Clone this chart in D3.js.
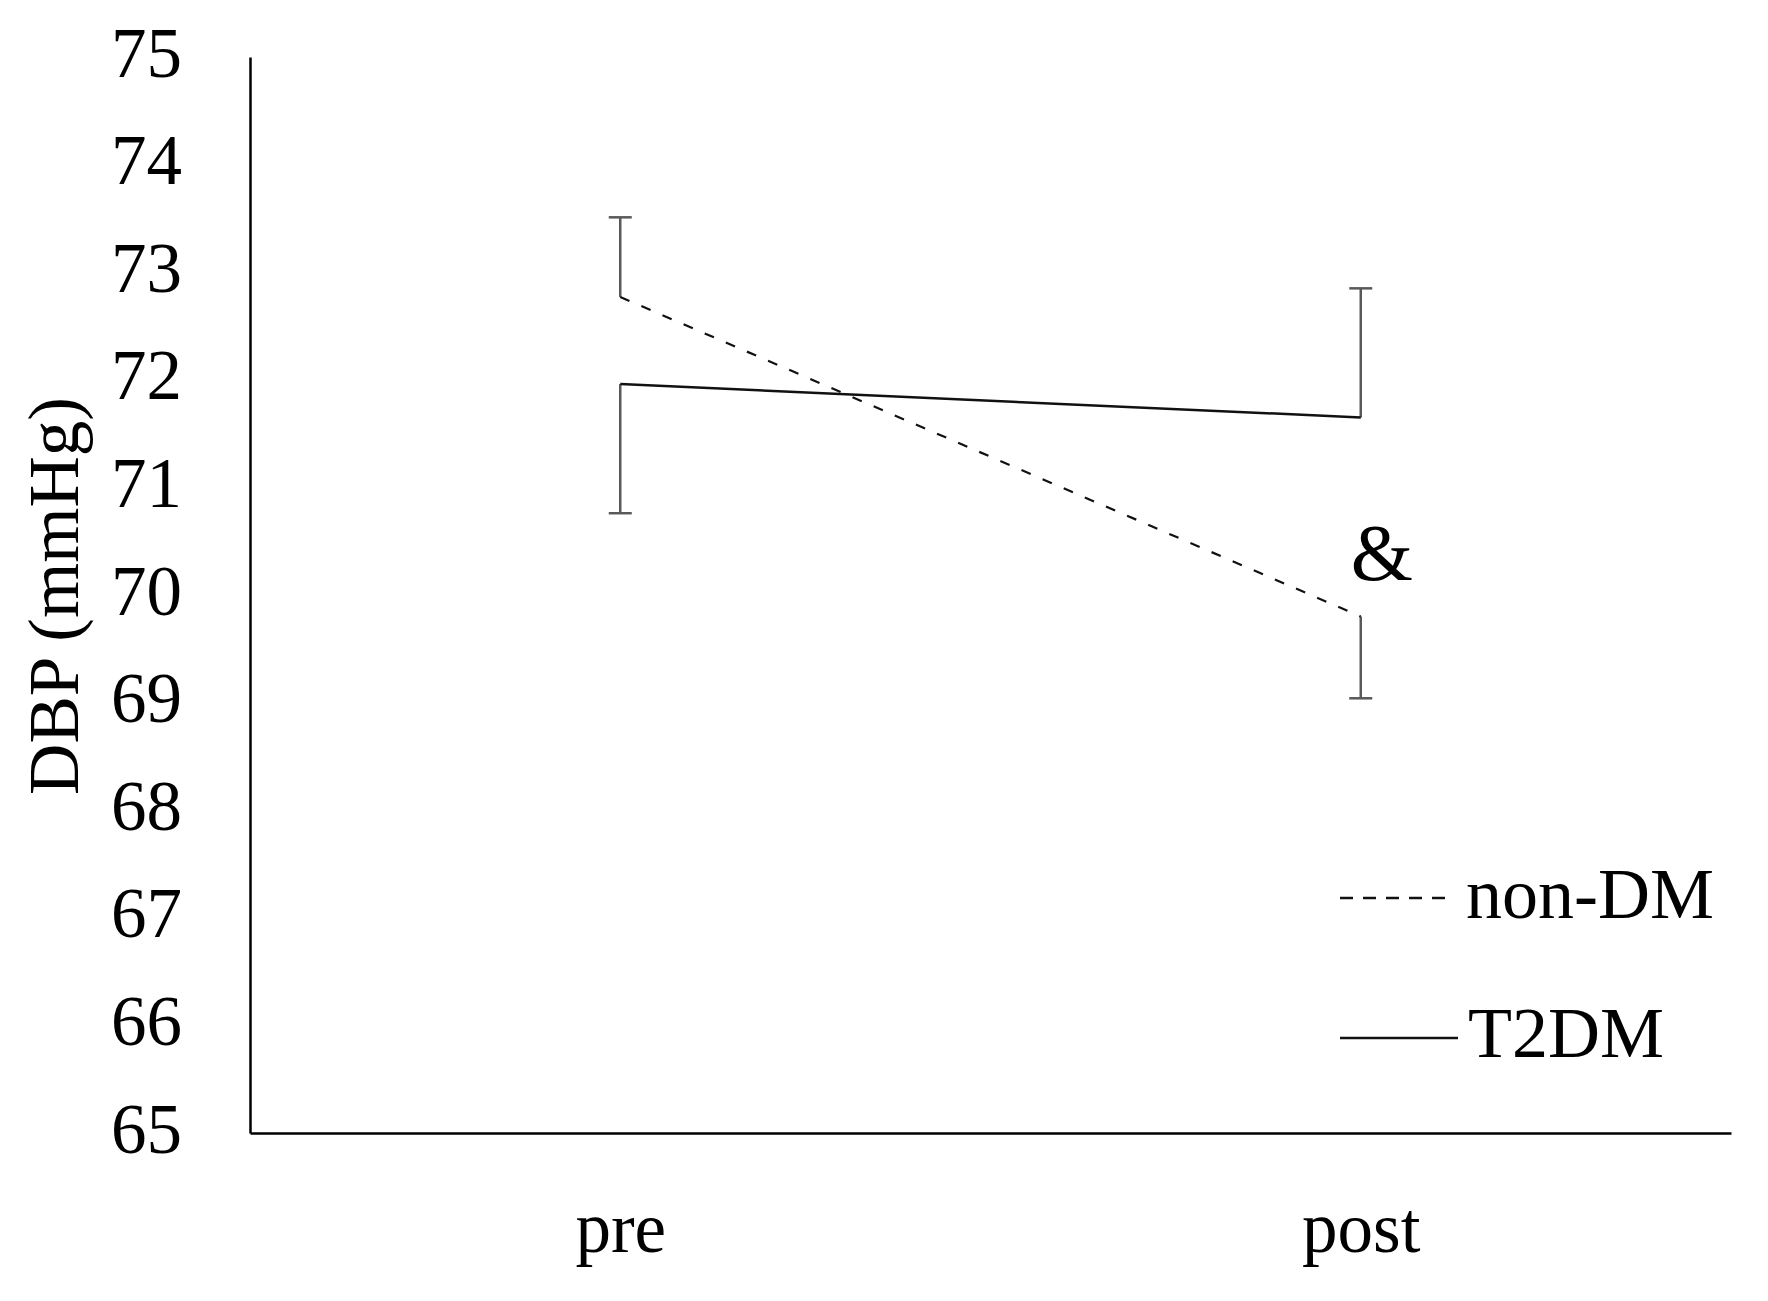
<!DOCTYPE html>
<html>
<head>
<meta charset="utf-8">
<script src="https://cdn.jsdelivr.net/npm/d3@7"></script>
<style>
  html, body { margin: 0; padding: 0; background: #fff; }
  svg { display: block; }
  text { font-family: "Liberation Serif", "DejaVu Serif", serif; fill: #000; }
</style>
</head>
<body>
<svg id="chart" width="1768" height="1301"></svg>
<script>
// ---- data ----
const categories = ["pre", "post"];
const yTicks = [65, 66, 67, 68, 69, 70, 71, 72, 73, 74, 75];
const nonDM = [72.77, 69.80];
const nonDMErr = [0.74, 0.76];   // non-DM: up at pre, down at post
const nonDMErrDir = [1, -1];
const t2dm = [71.96, 71.65];
const t2dmErr = [1.20, 1.20];    // T2DM: down at pre, up at post
const t2dmErrDir = [-1, 1];
const seriesNames = ["non-DM", "T2DM"];
const annotation = { category: "post", text: "&" };

// ---- layout ----
(function () {
const svg = d3.select("#chart");
const mLeft = 250, mRight = 1731, mTop = 57, mBottom = 1133;

const x = d3.scalePoint().domain(categories).range([mLeft, mRight]).padding(0.5);
const y = d3.scaleLinear().domain([65, 75]).range([mBottom, mTop]);

// y axis
const yAxis = svg.append("g").attr("transform", `translate(${mLeft},0)`)
  .call(d3.axisLeft(y).tickValues(yTicks).tickSize(0).tickPadding(68).tickFormat(d3.format("d")));
yAxis.select(".domain").attr("stroke", "#000").attr("stroke-width", 2.5);
yAxis.selectAll("text")
  .style("font-family", '"Liberation Serif", serif')
  .style("font-size", "71px")
  .attr("dy", "19px")
  .attr("fill", "#000");

// x axis
const xAxis = svg.append("g").attr("transform", `translate(0,${mBottom})`)
  .call(d3.axisBottom(x).tickSize(0).tickSizeOuter(0).tickPadding(0));
xAxis.select(".domain").attr("stroke", "#000").attr("stroke-width", 2.5);
xAxis.selectAll("text")
  .style("font-family", '"Liberation Serif", serif')
  .style("font-size", "71px")
  .attr("y", 0)
  .attr("dy", "119px")
  .attr("fill", "#000");

// y title
svg.append("text")
  .attr("transform", `translate(78,596) rotate(-90)`)
  .attr("text-anchor", "middle")
  .style("font-size", "71px")
  .text("DBP (mmHg)");

// error bars
function errorBars(vals, errs, dirs) {
  const g = svg.append("g").attr("stroke", "#595959").attr("stroke-width", 2.5).attr("fill", "none");
  categories.forEach((c, i) => {
    const cx = x(c);
    const end = vals[i] + dirs[i] * errs[i];
    g.append("line").attr("x1", cx).attr("x2", cx).attr("y1", y(vals[i])).attr("y2", y(end));
    g.append("line").attr("x1", cx - 11.5).attr("x2", cx + 11.5).attr("y1", y(end)).attr("y2", y(end));
  });
}
errorBars(nonDM, nonDMErr, nonDMErrDir);
errorBars(t2dm, t2dmErr, t2dmErrDir);

// lines
const line = d3.line().x((d, i) => x(categories[i])).y(d => y(d));
svg.append("path").datum(nonDM).attr("d", line)
  .attr("fill", "none").attr("stroke", "#111").attr("stroke-width", 2.2)
  .attr("stroke-dasharray", "10,13");
svg.append("path").datum(t2dm).attr("d", line)
  .attr("fill", "none").attr("stroke", "#111").attr("stroke-width", 2.5);

// annotation
svg.append("text")
  .attr("x", x(annotation.category) + 21)
  .attr("y", 580)
  .attr("text-anchor", "middle")
  .style("font-size", "80px")
  .text(annotation.text);

// legend
const legend = svg.append("g");
legend.append("line").attr("x1", 1340).attr("x2", 1448).attr("y1", 898).attr("y2", 898)
  .attr("stroke", "#111").attr("stroke-width", 2.5).attr("stroke-dasharray", "13,10");
legend.append("text").attr("x", 1466).attr("y", 918).style("font-size", "72px").text(seriesNames[0]);
legend.append("line").attr("x1", 1340).attr("x2", 1458).attr("y1", 1038).attr("y2", 1038)
  .attr("stroke", "#111").attr("stroke-width", 2.5);
legend.append("text").attr("x", 1468).attr("y", 1057).style("font-size", "72px").text(seriesNames[1]);
})();
</script>
</body>
</html>
